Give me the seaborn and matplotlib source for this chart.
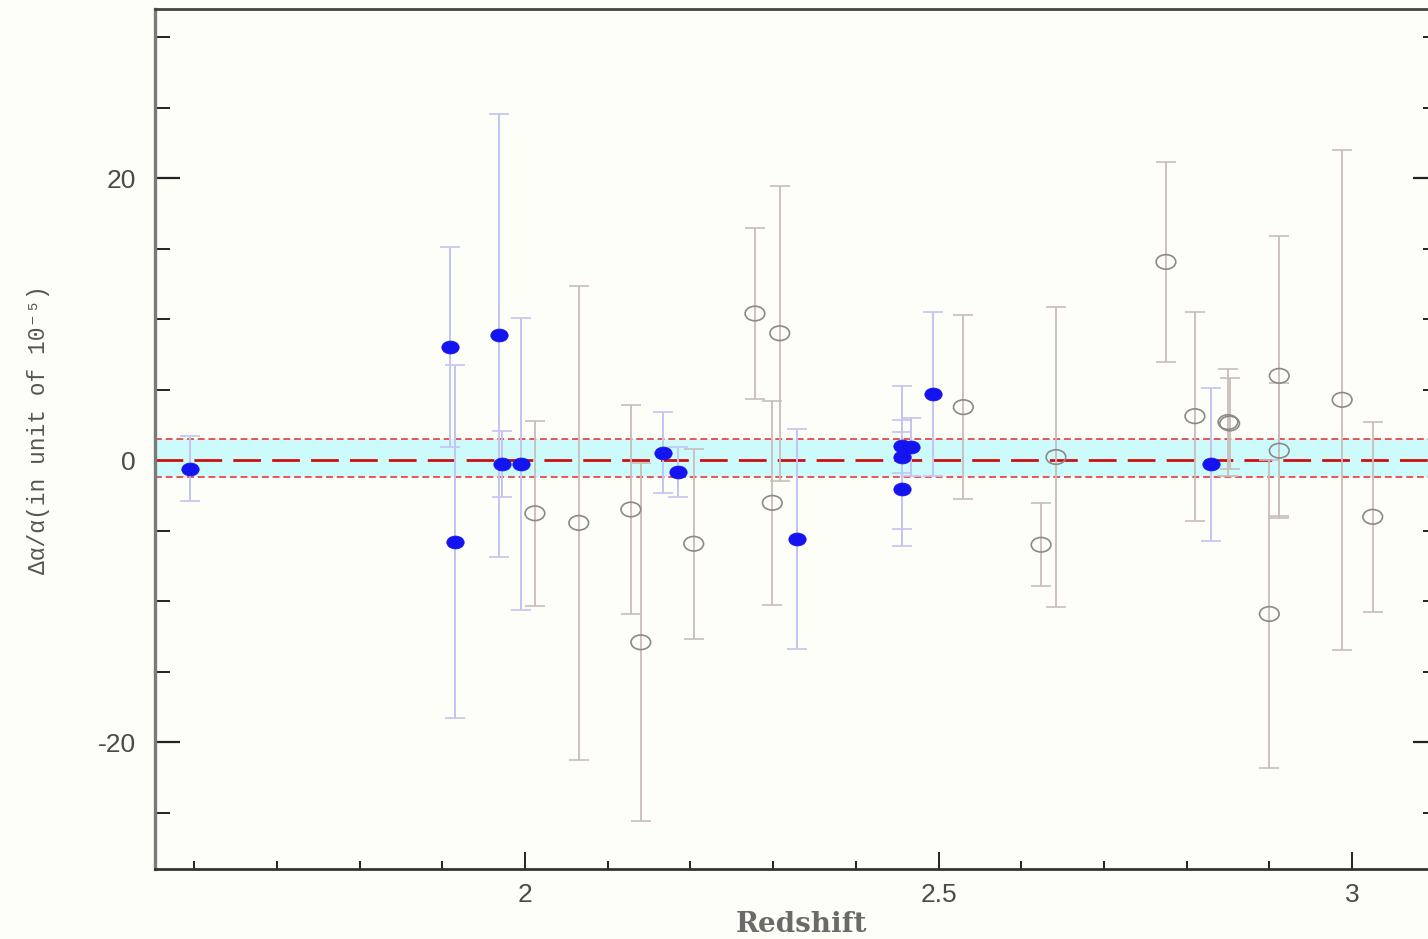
import matplotlib
matplotlib.use("Agg")
import matplotlib.pyplot as plt
from matplotlib.path import Path
from matplotlib.transforms import Affine2D
from matplotlib.ticker import MultipleLocator, FuncFormatter
import pandas as pd
import seaborn as sns

# Filled-symbol sample: redshift, delta-alpha/alpha (1e-5), 1-sigma error
z_filled = [1.595, 1.909, 1.915, 1.969, 1.972, 1.995, 2.167, 2.185, 2.329,
            2.456, 2.467, 2.456, 2.456, 2.493, 2.829]
da_filled = [-0.60, 8.04, -5.78, 8.86, -0.25, -0.26, 0.54, -0.81, -5.60,
             0.99, 0.93, 0.21, -2.02, 4.71, -0.28]
err_filled = [2.30, 7.10, 12.50, 15.70, 2.33, 10.35, 2.84, 1.77, 7.80,
              1.87, 2.09, 5.08, 4.05, 5.83, 5.43]

# Open-symbol sample
z_open = [2.012, 2.065, 2.128, 2.140, 2.204, 2.278, 2.308, 2.299, 2.530, 2.642,
          2.624, 2.775, 2.810, 2.850, 2.852, 2.912, 2.912, 2.900, 2.988, 3.025]
da_open = [-3.77, -4.45, -3.50, -12.92, -5.93, 10.40, 9.00, -3.03, 3.76, 0.22,
           -6.00, 14.06, 3.12, 2.70, 2.60, 5.98, 0.67, -10.91, 4.28, -4.02]
err_open = [6.56, 16.81, 7.40, 12.71, 6.73, 6.07, 10.45, 7.24, 6.50, 10.63,
            2.96, 7.07, 7.42, 3.80, 3.20, 9.93, 4.78, 10.93, 17.73, 6.76]

# Weighted mean and its uncertainty
mean_da = 0.14
mean_err = 1.35

x_ticks_major = [2.0, 2.5, 3.0]
y_ticks_major = [-20, 0, 20]

sns.set_style("ticks")
plt.rcParams["font.family"] = ["Liberation Sans", "DejaVu Sans"]

bg = "#fdfef8"
fig = plt.figure(figsize=(14.28, 9.39), dpi=100, facecolor=bg)
ax = fig.add_axes([0.10854, 0.07455, 0.8985, 0.91587], facecolor=bg)

# mean band and reference lines
ax.axhspan(mean_da - mean_err, mean_da + mean_err, color="#cdfbfb", lw=0, zorder=1)
for yv in (mean_da - mean_err, mean_da + mean_err):
    ax.axhline(yv, color="#e82a2a", lw=1.1, ls=(0, (4.5, 2.5)), zorder=2)
ax.axhline(0, color="#cc1010", lw=2.0, ls=(0, (10, 4)), zorder=2)

# error bars
ax.errorbar(z_open, da_open, yerr=err_open, fmt="none", ecolor="#c9bcbc",
            elinewidth=1.3, capsize=7, capthick=1.2, zorder=3)
ax.errorbar(z_filled, da_filled, yerr=err_filled, fmt="none", ecolor="#c4c4f2",
            elinewidth=1.4, capsize=7, capthick=1.2, zorder=3)

# slightly wide elliptical symbol
ellipse = Path.unit_circle().transformed(Affine2D().scale(1.35, 1.0))

df_open = pd.DataFrame({"z": z_open, "da": da_open})
df_filled = pd.DataFrame({"z": z_filled, "da": da_filled})

sns.scatterplot(data=df_open, x="z", y="da", marker=ellipse, s=200,
                color="none", edgecolor="#8a8a8a", linewidth=1.2,
                ax=ax, zorder=4, legend=False)
sns.scatterplot(data=df_filled, x="z", y="da", marker=ellipse, s=155,
                color="#1414f0", edgecolor="#1414f0", linewidth=0.6,
                ax=ax, zorder=5, legend=False)

ax.set_xlim(1.5526, 3.104)
ax.set_ylim(-29.0, 32.0)

ax.xaxis.set_major_locator(plt.FixedLocator(x_ticks_major))
ax.xaxis.set_minor_locator(MultipleLocator(0.1))
ax.yaxis.set_major_locator(plt.FixedLocator(y_ticks_major))
ax.yaxis.set_minor_locator(MultipleLocator(5))
ax.xaxis.set_major_formatter(FuncFormatter(lambda v, p: f"{v:g}"))
ax.yaxis.set_major_formatter(FuncFormatter(lambda v, p: f"{v:g}"))

ax.tick_params(axis="y", which="both", direction="in", left=True, right=True,
               colors="#222222", labelcolor="#4a4a4a", labelsize=19, pad=14)
ax.tick_params(axis="y", which="major", length=18, width=1.6)
ax.tick_params(axis="y", which="minor", length=11, width=1.4)
ax.tick_params(axis="x", which="both", direction="in", bottom=True, top=False,
               colors="#222222", labelcolor="#4a4a4a", labelsize=19, pad=10)
ax.tick_params(axis="x", which="major", length=12, width=1.4)
ax.tick_params(axis="x", which="minor", length=6, width=1.4)

ax.spines["left"].set_color("#7a7a7a")
ax.spines["left"].set_linewidth(2.4)
ax.spines["bottom"].set_color("#333333")
ax.spines["bottom"].set_linewidth(2.0)
ax.spines["top"].set_color("#444444")
ax.spines["top"].set_linewidth(2.0)
ax.spines["right"].set_color("#444444")

ax.set_xlabel("Redshift", family=["DejaVu Serif"], fontweight="bold",
              fontsize=20, color="#6a6a6a")
ax.xaxis.set_label_coords(0.5035, -0.0488)
ax.set_ylabel("Δα/α(in unit of 10⁻⁵)", family=["Liberation Mono", "DejaVu Sans Mono"],
              fontsize=16.5, color="#555555")
ax.yaxis.set_label_coords(-0.0818, 0.5105)

fig.savefig("out.png", dpi=100, facecolor=bg)
